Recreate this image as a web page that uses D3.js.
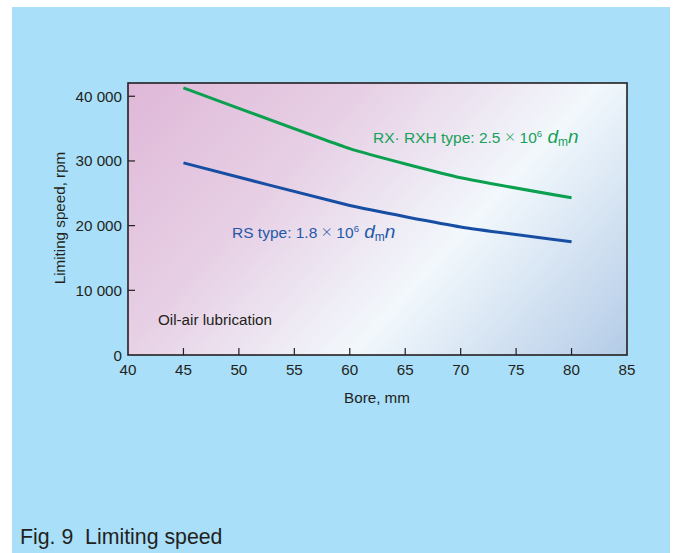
<!DOCTYPE html>
<html><head><meta charset="utf-8">
<script src="https://cdn.jsdelivr.net/npm/d3@7"></script>
<style>html,body{margin:0;padding:0;background:#fff;}svg{display:block;font-family:"Liberation Sans",Arial,sans-serif;}</style>
</head><body>
<script>
const bores = [45, 60, 70, 80];
const rxSpeed = [41300, 31900, 27400, 24300];
const rsSpeed = [29700, 23100, 19800, 17500];
const xTicks = [40, 45, 50, 55, 60, 65, 70, 75, 80, 85];
const yTicks = [0, 10000, 20000, 30000, 40000];
const yTickLabels = ["0", "10 000", "20 000", "30 000", "40 000"];

const W = 674, H = 553;
const svg = d3.select("body").append("svg").attr("width", W).attr("height", H);
svg.append("rect").attr("x", 12).attr("y", 7).attr("width", 658).attr("height", H - 7).attr("fill", "#a9dff9");

const L = 128, R = 627, T = 83, B = 355;
const x = d3.scaleLinear().domain([40, 85]).range([L, R]);
const y = d3.scaleLinear().domain([0, 42050]).range([B, T]);
const FS = 15.2, INK = "#231f20";

const defs = svg.append("defs");
const g = defs.append("linearGradient").attr("id", "bg").attr("gradientUnits", "userSpaceOnUse")
  .attr("x1", L).attr("y1", T).attr("x2", L + 400).attr("y2", T + 368);
[[0, "#dfb8d8"], [0.33, "#e7d0e5"], [0.64, "#f2f8fc"], [1, "#b6cde8"]].forEach(([o, c]) =>
  g.append("stop").attr("offset", o).attr("stop-color", c));

svg.append("rect").attr("x", L).attr("y", T).attr("width", R - L).attr("height", B - T).attr("fill", "url(#bg)");

// ticks
svg.append("g").selectAll("line").data(yTicks.slice(1)).join("line")
  .attr("x1", L).attr("x2", L + 7).attr("y1", d => y(d)).attr("y2", d => y(d))
  .attr("stroke", INK).attr("stroke-width", 1.2);
svg.append("g").selectAll("line").data(xTicks.slice(1, -1)).join("line")
  .attr("x1", d => x(d)).attr("x2", d => x(d)).attr("y1", B).attr("y2", B - 7)
  .attr("stroke", INK).attr("stroke-width", 1.2);

svg.append("rect").attr("x", L).attr("y", T).attr("width", R - L).attr("height", B - T)
  .attr("fill", "none").attr("stroke", INK).attr("stroke-width", 1.6);

// tick labels
svg.append("g").selectAll("text").data(yTicks).join("text")
  .attr("x", L - 6).attr("y", d => y(d) + 5.5).attr("text-anchor", "end")
  .attr("font-size", FS).attr("fill", INK).text((d, i) => yTickLabels[i]);
svg.append("g").selectAll("text").data(xTicks).join("text")
  .attr("x", d => x(d)).attr("y", B + 20).attr("text-anchor", "middle")
  .attr("font-size", FS).attr("fill", INK).text(d => d);

svg.append("text").attr("x", 377).attr("y", 403).attr("text-anchor", "middle")
  .attr("font-size", FS).attr("fill", INK).text("Bore, mm");
svg.append("text").attr("transform", "translate(65,218) rotate(-90)").attr("text-anchor", "middle")
  .attr("font-size", FS).attr("fill", INK).text("Limiting speed, rpm");

// lines
const line = d3.line().x(d => x(d[0])).y(d => y(d[1])).curve(d3.curveCardinal.tension(0.6));
svg.append("path").attr("d", line(bores.map((b, i) => [b, rxSpeed[i]])))
  .attr("fill", "none").attr("stroke", "#0aa04f").attr("stroke-width", 3).attr("stroke-linejoin", "round");
svg.append("path").attr("d", line(bores.map((b, i) => [b, rsSpeed[i]])))
  .attr("fill", "none").attr("stroke", "#174ea3").attr("stroke-width", 3).attr("stroke-linejoin", "round");

function label(xp, yp, color, prefix, coef) {
  const t = svg.append("text").attr("x", xp).attr("y", yp).attr("fill", color).attr("font-size", 15.5);
  t.append("tspan").text(prefix + coef + " ");
  t.append("tspan").attr("font-size", 18).attr("font-family", "Lato").attr("font-weight", 300).text("\u00d7");
  t.append("tspan").text(" 10");
  t.append("tspan").attr("font-size", 9.5).attr("dy", -6.5).text("6");
  t.append("tspan").attr("dy", 6.5).attr("font-size", 19).attr("font-style", "italic").text(" d");
  t.append("tspan").attr("font-size", 12).attr("dy", 3).text("m");
  t.append("tspan").attr("dy", -3).attr("font-size", 19).attr("font-style", "italic").text("n");
}
label(373, 143, "#17a058", "RX\u00b7 RXH type: ", "2.5");
label(232, 238, "#2458a8", "RS type: ", "1.8");

svg.append("text").attr("x", 158).attr("y", 325).attr("font-size", FS).attr("fill", INK).text("Oil-air lubrication");
svg.append("text").attr("x", 20).attr("y", 544).attr("font-size", 21.3).attr("fill", INK).text("Fig. 9\u00a0\u00a0Limiting speed");
</script>
</body></html>
